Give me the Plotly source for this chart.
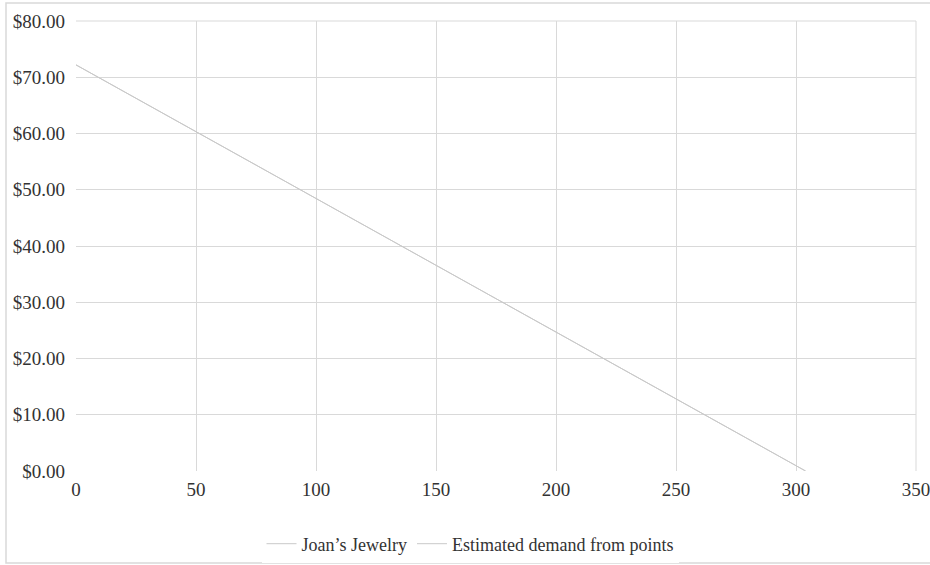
import plotly.graph_objects as go

# Quantity demanded vs. price
quantity_points = [0, 50, 100, 150, 200, 250, 304]
price_points = [72.2, 60.3, 48.4, 36.5, 24.7, 12.8, 0.0]

est_quantity = [0, 304]
est_price = [72.2, 0.0]

x_ticks = [0, 50, 100, 150, 200, 250, 300, 350]
y_ticks = [0, 10, 20, 30, 40, 50, 60, 70, 80]

FONT = "Liberation Serif"
LINE = "#c9c9c9"
GRID = "#d9d9d9"

fig = go.Figure()
fig.add_trace(go.Scatter(
    x=quantity_points, y=price_points, mode="lines", name="Joan\u2019s Jewelry",
    line=dict(color=LINE, width=1),
))
fig.add_trace(go.Scatter(
    x=est_quantity, y=est_price, mode="lines", name="Estimated demand from points",
    line=dict(color=LINE, width=1),
))

W, H = 930, 565
L, R, T, B = 76, 14, 21, 94
pw, ph = W - L - R, H - T - B

def px_x(p):
    return (p - L) / pw

def px_y(p):
    return (H - B - p) / ph

fig.update_layout(
    width=W, height=H,
    margin=dict(l=L, r=R, t=T, b=B, autoexpand=False),
    paper_bgcolor="white", plot_bgcolor="white",
    font=dict(family=FONT, color="#333333", size=19),
    showlegend=True,
    legend=dict(
        orientation="h", x=px_x(470), xanchor="center", y=px_y(544), yanchor="middle",
        font=dict(family=FONT, size=18, color="#333333"),
        itemwidth=30,
    ),
    xaxis=dict(
        range=[0, 350], tickvals=x_ticks, ticktext=[str(v) for v in x_ticks],
        showgrid=True, gridcolor=GRID, gridwidth=1, automargin=False,
        zeroline=False, showline=False, ticks="", ticklabelstandoff=5,
        ticklabeloverflow="allow",
    ),
    yaxis=dict(
        range=[0, 80], tickvals=y_ticks, ticktext=[f"${v:.2f}" for v in y_ticks],
        showgrid=True, gridcolor=GRID, gridwidth=1, automargin=False,
        zeroline=False, showline=False, ticks="", ticklabelstandoff=10,
    ),
    shapes=[
        dict(type="rect", xref="paper", yref="paper",
             x0=px_x(6), x1=px_x(940), y0=px_y(563), y1=px_y(3),
             line=dict(color=GRID, width=1.5), layer="below"),
        dict(type="line", xref="paper", yref="paper",
             x0=1, x1=1, y0=0, y1=1, line=dict(color=GRID, width=1)),
        dict(type="line", xref="paper", yref="paper",
             x0=0, x1=1, y0=1, y1=1, line=dict(color=GRID, width=1)),
    ],
)

fig.write_html("out.html")
